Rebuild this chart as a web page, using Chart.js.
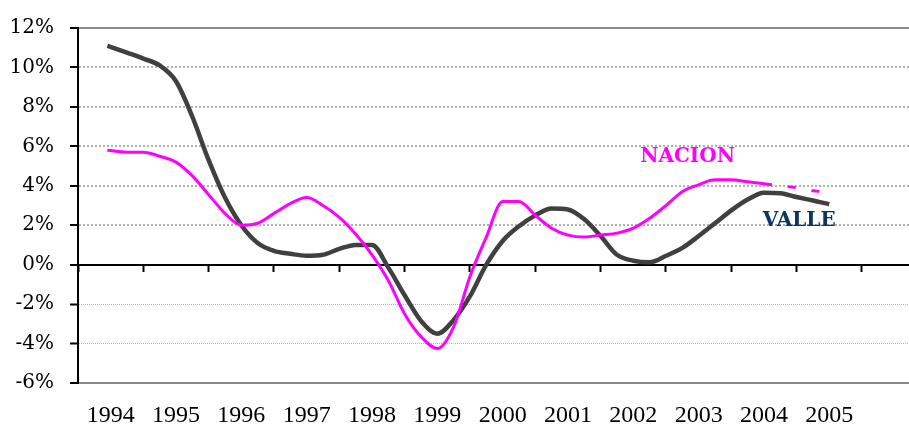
<!DOCTYPE html>
<html>
<head>
<meta charset="utf-8">
<script src="https://cdn.jsdelivr.net/npm/chart.js@4/dist/chart.umd.min.js"></script>
<style>
  html, body { margin: 0; padding: 0; background: #ffffff; }
  #wrap { width: 909px; height: 432px; }
</style>
</head>
<body>
<div id="wrap"><canvas id="c" width="909" height="432"></canvas></div>
<script>
// ---- Data ----
const periods = [
  1994.45, 1994.75,
  1995.00, 1995.25, 1995.50, 1995.75,
  1996.00, 1996.25, 1996.50, 1996.75,
  1997.00, 1997.25, 1997.50, 1997.75,
  1998.00, 1998.25, 1998.50, 1998.75,
  1999.00, 1999.25, 1999.50, 1999.75,
  2000.00, 2000.25, 2000.50, 2000.75,
  2001.00, 2001.25, 2001.50, 2001.75,
  2002.00, 2002.25, 2002.50, 2002.75,
  2003.00, 2003.25, 2003.50, 2003.75,
  2004.00, 2004.25, 2004.50, 2004.75,
  2005.00, 2005.25, 2005.375, 2005.50
];

const valle = [
  11.1, 10.75,
  10.45, 10.1, 9.3, 7.5,
  5.3, 3.4, 2.0, 1.1,
  0.7, 0.55, 0.45, 0.5,
  0.8, 1.0, 1.0, -0.15,
  -1.55, -2.85, -3.5, -2.8,
  -1.6, 0.0, 1.2, 1.95,
  2.5, 2.85, 2.8, 2.3,
  1.45, 0.5, 0.2, 0.12,
  0.45, 0.85, 1.45, 2.1,
  2.75, 3.3, 3.65, 3.62,
  3.43, 3.25, 3.16, 3.07
];

const nacion = [
  5.8, 5.7,
  5.7, 5.5, 5.2, 4.5,
  3.55, 2.6, 2.0, 2.1,
  2.6, 3.1, 3.4, 3.0,
  2.4, 1.55, 0.5, -0.8,
  -2.5, -3.65, -4.25, -3.15,
  -0.6, 1.4, 3.2, 3.2,
  2.5, 1.85, 1.5, 1.4,
  1.5, 1.6, 1.85, 2.35,
  3.0, 3.7, 4.05, 4.3,
  4.3, 4.2, 4.1, 4.0,
  3.9, 3.75, 3.7, null
];

const yearLabels = ['1994','1995','1996','1997','1998','1999','2000','2001','2002','2003','2004','2005'];
const yearBoundaries = [1994,1995,1996,1997,1998,1999,2000,2001,2002,2003,2004,2005,2006];
const yTicks = [-6,-4,-2,0,2,4,6,8,10,12];
const seriesNames = ['VALLE', 'NACION'];
const estimatedFrom = 2004.5; // NACION values from here on are drawn dashed

// ---- Chart ----
const X_MIN = 1994, X_MAX = 2006.72;

const seriesLabelPlugin = {
  id: 'seriesLabels',
  afterDatasetsDraw(chart, args, opts) {
    const { ctx } = chart;
    const xs = chart.scales.x, ys = chart.scales.y;
    opts.items.forEach(it => {
      ctx.save();
      ctx.font = 'bold 20px "DejaVu Serif"';
      ctx.fillStyle = it.color;
      ctx.textAlign = 'center';
      ctx.textBaseline = 'alphabetic';
      ctx.fillText(it.text, xs.getPixelForValue(it.x), ys.getPixelForValue(it.y));
      ctx.restore();
    });
  }
};

const edge = v => v === 12 || v === -6;

new Chart(document.getElementById('c'), {
  type: 'line',
  data: {
    datasets: [
      {
        label: seriesNames[0],
        data: periods.map((p, i) => ({ x: p, y: valle[i] })),
        borderColor: '#404040',
        borderWidth: 4.5,
        pointRadius: 0,
        fill: false,
        cubicInterpolationMode: 'monotone',
        order: 2
      },
      {
        label: seriesNames[1],
        data: periods.map((p, i) => ({ x: p, y: nacion[i] })),
        borderColor: '#ff00ff',
        borderWidth: 3,
        pointRadius: 0,
        fill: false,
        cubicInterpolationMode: 'monotone',
        spanGaps: false,
        segment: {
          borderDash: c => (c.p0.parsed.x >= estimatedFrom - 1e-6 ? [8, 16] : undefined)
        },
        order: 1
      }
    ]
  },
  options: {
    responsive: false,
    animation: false,
    devicePixelRatio: 1,
    layout: { padding: { top: 21, right: 0, bottom: 0, left: 0 } },
    plugins: {
      legend: { display: false },
      tooltip: { enabled: false },
      seriesLabels: {
        items: [
          { text: seriesNames[1], x: 2003.33, y: 5.2, color: '#ff00ff' },
          { text: seriesNames[0], x: 2005.04, y: 1.98, color: '#0b3366' }
        ]
      }
    },
    scales: {
      x: {
        type: 'linear',
        position: 'bottom',
        min: X_MIN,
        max: X_MAX,
        afterBuildTicks: s => { s.ticks = yearLabels.map((l, i) => ({ value: yearBoundaries[i] + 0.5 })); },
        afterFit: s => { s.height = 49; },
        grid: { display: false, drawTicks: false },
        border: { display: false },
        ticks: {
          autoSkip: false,
          maxRotation: 0,
          padding: 18,
          color: '#000',
          font: { family: '"Liberation Serif"', size: 24 },
          callback: (v) => yearLabels[Math.round(v - 0.5) - 1994]
        }
      },
      xz: {
        type: 'linear',
        position: { y: 0 },
        min: X_MIN,
        max: X_MAX,
        afterBuildTicks: s => { s.ticks = yearBoundaries.map(v => ({ value: v })); },
        grid: { display: true, drawOnChartArea: false, drawTicks: true, tickLength: 6, tickColor: '#000', tickWidth: 2 },
        border: { display: true, color: '#000', width: 2 },
        ticks: { display: false }
      },
      y: {
        type: 'linear',
        min: -6,
        max: 12,
        afterBuildTicks: s => { s.ticks = yTicks.map(v => ({ value: v })); },
        afterFit: s => { s.width = 78; },
        ticks: {
          padding: 16,
          color: '#000',
          font: { family: '"DejaVu Serif"', size: 20 },
          callback: v => v + '%'
        },
        grid: {
          color: c => {
            const v = c.tick ? c.tick.value : null;
            if (v === 0) return 'rgba(0,0,0,0)';
            if (edge(v)) return '#8a8a8a';
            return v < 0 ? '#b8b8b8' : '#b0b0b0';
          },
          lineWidth: c => {
            const v = c.tick ? c.tick.value : null;
            if (edge(v)) return 2;
            return v < 0 ? 1 : 2;
          },
          drawTicks: true,
          tickLength: 8,
          tickColor: '#000',
          tickWidth: 2
        },
        border: {
          display: true,
          color: '#000',
          width: 2,
          dash: c => {
            const v = c.tick ? c.tick.value : null;
            if (v === null || edge(v) || v === 0) return [];
            return v < 0 ? [1, 1] : [2, 2];
          }
        }
      }
    }
  },
  plugins: [seriesLabelPlugin]
});
</script>
</body>
</html>
